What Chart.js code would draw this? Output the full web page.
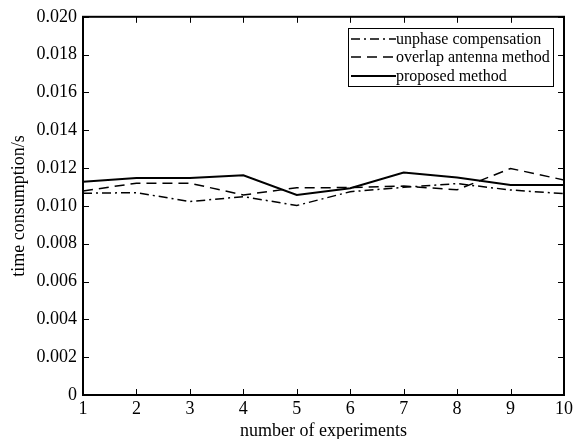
<!DOCTYPE html>
<html><head><meta charset="utf-8">
<script src="https://cdn.jsdelivr.net/npm/chart.js@4/dist/chart.umd.min.js"></script>
<style>html,body{margin:0;padding:0;background:#fff}#wrap{width:577px;height:439px}</style>
</head><body><div id="wrap"><canvas id="c" width="577" height="439"></canvas></div>
<script>
const experiments = [1,2,3,4,5,6,7,8,9,10];
const unphase  = [0.01067,0.01070,0.01023,0.01049,0.01002,0.01075,0.01098,0.01118,0.01084,0.01065];
const overlap  = [0.01079,0.01120,0.01120,0.01058,0.01096,0.01097,0.01105,0.01085,0.01198,0.01137];
const proposed = [0.01128,0.01147,0.01147,0.01162,0.01058,0.01093,0.01177,0.01150,0.01110,0.01110];
const yTicks = [0,0.002,0.004,0.006,0.008,0.010,0.012,0.014,0.016,0.018,0.020];
const seriesNames = ['unphase compensation','overlap antenna method','proposed method'];

const FONT = 'Liberation Serif';
const toPts = v => experiments.map((x,i)=>({x, y:v[i]}));

const framePlugin = {
  id:'frame',
  afterDatasetsDraw(chart){
    const {ctx, chartArea:a, scales:{x,y}} = chart;
    ctx.save();
    ctx.strokeStyle='#000';
    ctx.lineWidth=1;
    const L=6;
    ctx.beginPath();
    experiments.forEach(v=>{
      const px=Math.round(x.getPixelForValue(v))+0.5;
      ctx.moveTo(px,a.bottom); ctx.lineTo(px,a.bottom-L);
      ctx.moveTo(px,a.top); ctx.lineTo(px,a.top+L);
    });
    yTicks.forEach(v=>{
      const py=Math.round(y.getPixelForValue(v))+0.5;
      ctx.moveTo(a.left,py); ctx.lineTo(a.left+L,py);
      ctx.moveTo(a.right,py); ctx.lineTo(a.right-L,py);
    });
    ctx.stroke();
    ctx.lineWidth=2;
    ctx.strokeRect(a.left,a.top,a.right-a.left,a.bottom-a.top);
    // legend
    const bx=348, by=28, bw=205, bh=58;
    ctx.fillStyle='#fff';
    ctx.fillRect(bx,by,bw,bh);
    ctx.lineWidth=1;
    ctx.strokeRect(bx+0.5,by+0.5,bw,bh);
    ctx.font='16px "'+FONT+'"';
    ctx.textBaseline='middle';
    ctx.fillStyle='#000';
    const rows=[39,57,76];
    chart.data.datasets.forEach((ds,i)=>{
      ctx.beginPath();
      ctx.setLineDash(ds.borderDash||[]);
      ctx.lineWidth=ds.borderWidth;
      ctx.moveTo(351,rows[i]); ctx.lineTo(396,rows[i]);
      ctx.stroke();
      ctx.setLineDash([]);
      ctx.fillText(ds.label,396,rows[i]+1);
    });
    ctx.restore();
  }
};

new Chart(document.getElementById('c'),{
  type:'line',
  data:{datasets:[
    {label:seriesNames[0],data:toPts(unphase),borderColor:'#000',borderWidth:1.5,borderDash:[9,4,2,4],pointRadius:0,fill:false,tension:0},
    {label:seriesNames[1],data:toPts(overlap),borderColor:'#000',borderWidth:1.5,borderDash:[10,6],pointRadius:0,fill:false,tension:0},
    {label:seriesNames[2],data:toPts(proposed),borderColor:'#000',borderWidth:2,pointRadius:0,fill:false,tension:0}
  ]},
  options:{
    responsive:false,animation:false,
    layout:{padding:{top:16,right:13,left:0,bottom:0}},
    plugins:{legend:{display:false},tooltip:{enabled:false}},
    scales:{
      x:{type:'linear',min:1,max:10,
        afterFit(s){s.height=44;},
        ticks:{stepSize:1,color:'#000',font:{family:FONT,size:18},padding:3,maxRotation:0,autoSkip:false},
        grid:{display:false,drawTicks:false},border:{display:false},
        title:{display:true,text:'number of experiments',color:'#000',font:{family:FONT,size:18},padding:{top:0,bottom:-3}}
      },
      y:{type:'linear',min:0,max:0.02,
        afterFit(s){s.width=83;},
        afterBuildTicks(s){s.ticks=yTicks.map(v=>({value:v}));},
        ticks:{color:'#000',font:{family:FONT,size:18},padding:6,
          callback:v=> v===0?'0':v.toFixed(3)},
        grid:{display:false,drawTicks:false},border:{display:false},
        title:{display:true,text:'time consumption/s',color:'#000',font:{family:FONT,size:18},padding:{top:8,bottom:0}}
      }
    }
  },
  plugins:[framePlugin]
});
</script></body></html>
